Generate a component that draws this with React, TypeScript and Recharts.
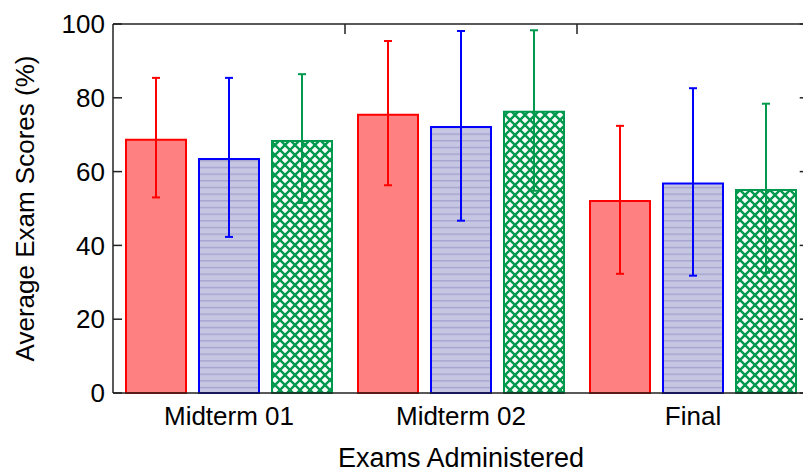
import React from 'react'
import { BarChart, Bar, XAxis, YAxis, ErrorBar, ReferenceLine } from 'recharts'

const exams = ['Midterm 01', 'Midterm 02', 'Final']

const redMean = [68.6, 75.4, 52.0]
const redLow = [53.0, 56.3, 32.3]
const redHigh = [85.4, 95.4, 72.4]

const blueMean = [63.4, 72.1, 56.8]
const blueLow = [42.3, 46.7, 31.8]
const blueHigh = [85.4, 98.1, 82.6]

const greenMean = [68.3, 76.2, 55.0]
const greenLow = [51.5, 54.8, 32.6]
const greenHigh = [86.4, 98.3, 78.4]

const yTicks = [0, 20, 40, 60, 80, 100]
const bandTicks = [0, 1, 2, 3]

const data = exams.map((exam, i) => ({
    exam,
    slot: i + 0.5,
    red: redMean[i],
    redErr: [redMean[i] - redLow[i], redHigh[i] - redMean[i]],
    blue: blueMean[i],
    blueErr: [blueMean[i] - blueLow[i], blueHigh[i] - blueMean[i]],
    green: greenMean[i],
    greenErr: [greenMean[i] - greenLow[i], greenHigh[i] - greenMean[i]],
}))

const font = '"Liberation Sans", Arial, sans-serif'
const axisColor = '#222'
const green = '#00994d'

// inward tick lengths for the top / right frame, in data units
const topTickLen = 2.7
const rightTickLen = 0.04

const App = () => {
    return (
        <div style={{ position: 'absolute', left: 0, top: 0, width: 803, height: 473, overflow: 'hidden', background: '#fff' }}>
            <svg width={0} height={0} style={{ position: 'absolute' }}>
                <defs>
                    <pattern id="stripes" patternUnits="userSpaceOnUse" width={10} height={6.67}>
                        <rect width={10} height={6.67} fill="#c6c6e2" />
                        <rect width={10} height={1.4} fill="#a4a4d0" />
                    </pattern>
                    <pattern id="crosshatch" patternUnits="userSpaceOnUse" width={10} height={10}>
                        <rect width={10} height={10} fill="#ffffff" />
                        <path d="M-2,-2 L12,12 M12,-2 L-2,12" stroke={green} strokeWidth={2.4} />
                    </pattern>
                </defs>
            </svg>
            <BarChart
                width={812}
                height={473}
                data={data}
                margin={{ top: 24, right: 3, left: 0, bottom: 0 }}
                barSize={60}
                barGap={13}
                style={{ fontFamily: font }}
            >
                {/* bottom frame with ticks between the groups (zero-size axes are not drawn) */}
                <XAxis
                    xAxisId="bands"
                    dataKey="slot"
                    type="number"
                    domain={[0, 3]}
                    allowDataOverflow
                    ticks={bandTicks}
                    tick={false}
                    tickSize={-10}
                    height={1}
                    stroke={axisColor}
                    strokeWidth={1.5}
                />
                <XAxis
                    xAxisId="cat"
                    dataKey="exam"
                    height={79}
                    axisLine={false}
                    tickLine={false}
                    tickSize={0}
                    tickMargin={13}
                    tick={{ fill: '#000', fontSize: 26, fontFamily: font }}
                    label={{ value: 'Exams Administered', position: 'insideBottom', offset: 6, style: { fill: '#000', fontSize: 27, fontFamily: font } }}
                />
                <YAxis
                    yAxisId="left"
                    width={113}
                    domain={[0, 100]}
                    ticks={yTicks}
                    tickSize={-9}
                    tickMargin={17}
                    stroke={axisColor}
                    strokeWidth={1.5}
                    tick={{ fill: '#000', fontSize: 26, fontFamily: font }}
                    label={{ value: 'Average Exam Scores (%)', angle: -90, position: 'insideLeft', offset: 25, style: { textAnchor: 'middle', fill: '#000', fontSize: 26, fontFamily: font } }}
                />
                <ReferenceLine xAxisId="bands" yAxisId="left" y={100} stroke={axisColor} strokeWidth={1.5} />
                <ReferenceLine xAxisId="bands" yAxisId="left" x={3} stroke={axisColor} strokeWidth={1.5} />
                {bandTicks.slice(1, -1).map((t) => (
                    <ReferenceLine key={'t' + t} xAxisId="bands" yAxisId="left" stroke={axisColor} strokeWidth={1.5}
                        segment={[{ x: t, y: 100 }, { x: t, y: 100 - topTickLen }]} />
                ))}
                {yTicks.map((t) => (
                    <ReferenceLine key={'r' + t} xAxisId="bands" yAxisId="left" stroke={axisColor} strokeWidth={1.5}
                        segment={[{ x: 3, y: t }, { x: 3 - rightTickLen, y: t }]} />
                ))}
                <Bar xAxisId="cat" yAxisId="left" dataKey="red" fill="#ff8080" stroke="#ff0000" strokeWidth={2} isAnimationActive={false}>
                    <ErrorBar dataKey="redErr" width={4} stroke="#ff0000" strokeWidth={2} direction="y" />
                </Bar>
                <Bar xAxisId="cat" yAxisId="left" dataKey="blue" fill="url(#stripes)" stroke="#0000ff" strokeWidth={2} isAnimationActive={false}>
                    <ErrorBar dataKey="blueErr" width={4} stroke="#0000ff" strokeWidth={2} direction="y" />
                </Bar>
                <Bar xAxisId="cat" yAxisId="left" dataKey="green" fill="url(#crosshatch)" stroke={green} strokeWidth={2} isAnimationActive={false}>
                    <ErrorBar dataKey="greenErr" width={4} stroke={green} strokeWidth={2} direction="y" />
                </Bar>
            </BarChart>
        </div>
    )
}

export default App
